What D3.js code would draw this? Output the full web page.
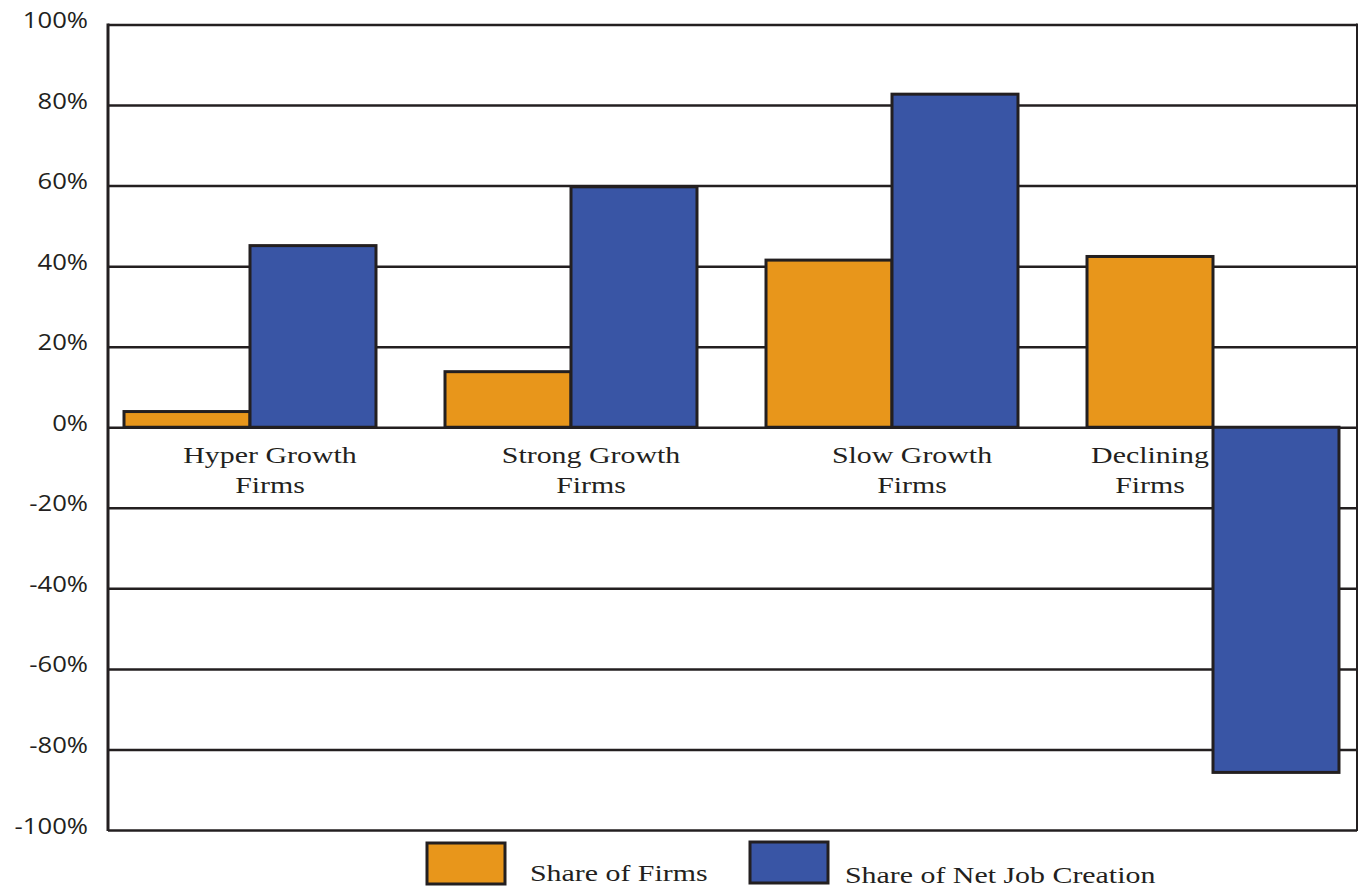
<!DOCTYPE html>
<html>
<head>
<meta charset="utf-8">
<script src="https://cdn.jsdelivr.net/npm/d3@7"></script>
<style>
  html, body { margin: 0; padding: 0; background: #ffffff; }
  svg { display: block; }
</style>
</head>
<body>
<svg id="chart" width="1359" height="888"></svg>
<script>
// Firm growth classes and their shares
const categories = ["Hyper Growth Firms", "Strong Growth Firms", "Slow Growth Firms", "Declining Firms"];
const categoryLines = [["Hyper Growth", "Firms"], ["Strong Growth", "Firms"], ["Slow Growth", "Firms"], ["Declining", "Firms"]];
const seriesNames = ["Share of Firms", "Share of Net Job Creation"];
const shareOfFirms = [3.9, 13.8, 41.5, 42.4];
const shareOfNetJobCreation = [45.1, 59.7, 82.7, -85.7];
const yTicks = [100, 80, 60, 40, 20, 0, -20, -40, -60, -80, -100];
const yTickLabels = ["100%", "80%", "60%", "40%", "20%", "0%", "-20%", "-40%", "-60%", "-80%", "-100%"];

const seriesValues = [shareOfFirms, shareOfNetJobCreation];
const colors = ["#E8961B", "#3955A5"];
const ink = "#231f20";

const svg = d3.select("#chart");
const plot = { left: 108, right: 1357, top: 24.5, bottom: 830 };

// Glyphs in this chart are set wide, so text is stretched horizontally
const SERIF = "'Liberation Serif', 'Times New Roman', serif";
const SANS = "'Open Sans', 'DejaVu Sans', sans-serif";
const serifStretch = 1.3, sansStretch = 1.14;

const y = d3.scaleLinear().domain([-100, 100]).range([plot.bottom, plot.top]);
const x0 = d3.scaleBand().domain(categories).range([89.5, 1373.5]).paddingInner(0.215).paddingOuter(0.1075);
const x1 = d3.scaleBand().domain(seriesNames).range([0, x0.bandwidth()]);

// Horizontal grid lines through the y axis
const yAxis = d3.axisLeft(y).tickValues(yTicks).tickSize(-(plot.right - plot.left)).tickFormat("");
const grid = svg.append("g").attr("transform", `translate(${plot.left},0)`).call(yAxis);
grid.select(".domain").remove();
grid.selectAll(".tick line").attr("stroke", ink).attr("stroke-width", 2.5);

// Tick labels
grid.selectAll(".tick").each(function (d) {
  d3.select(this).append("g")
    .attr("transform", `translate(-20,3) scale(${sansStretch},1)`)
    .append("text")
    .attr("text-anchor", "end")
    .attr("font-family", SANS)
    .attr("font-size", 22.5)
    .attr("fill", ink)
    .text(yTickLabels[yTicks.indexOf(d)]);
});

// Frame: left axis line and right edge
svg.append("line").attr("x1", plot.left).attr("x2", plot.left)
  .attr("y1", y(100) - 1).attr("y2", y(-100) + 1)
  .attr("stroke", ink).attr("stroke-width", 3);
svg.append("line").attr("x1", plot.right).attr("x2", plot.right)
  .attr("y1", y(100) - 1).attr("y2", y(-100) + 1)
  .attr("stroke", ink).attr("stroke-width", 2);

// Bars
const groups = svg.append("g").selectAll("g")
  .data(categories)
  .join("g")
  .attr("transform", d => `translate(${x0(d)},0)`);

groups.selectAll("rect")
  .data((c, ci) => seriesNames.map((s, si) => ({ series: s, si, value: seriesValues[si][ci] })))
  .join("rect")
  .attr("x", d => x1(d.series))
  .attr("width", x1.bandwidth())
  .attr("y", d => y(Math.max(0, d.value)))
  .attr("height", d => Math.abs(y(d.value) - y(0)))
  .attr("fill", d => colors[d.si])
  .attr("stroke", ink)
  .attr("stroke-width", 3);

// Category labels below the zero line; when the job bar dips below zero,
// the label moves over the firm-share bar so it stays clear
categories.forEach((c, ci) => {
  const negative = shareOfNetJobCreation[ci] < 0;
  const cx = negative
    ? x0(c) + x1(seriesNames[0]) + x1.bandwidth() / 2
    : x0(c) + x0.bandwidth() / 2 + 20;
  categoryLines[ci].forEach((line, li) => {
    svg.append("g")
      .attr("transform", `translate(${cx},${y(0) + 36 + li * 30}) scale(${serifStretch},1)`)
      .append("text")
      .attr("text-anchor", "middle")
      .attr("font-family", SERIF)
      .attr("font-size", 23)
      .attr("fill", ink)
      .text(line);
  });
});

// Legend
const legendX = [427, 750];
const legendTextDx = [103, 95];
const legendTextY = [881, 883];
seriesNames.forEach((s, si) => {
  svg.append("rect")
    .attr("x", legendX[si]).attr("y", 843 - si)
    .attr("width", 78).attr("height", 41)
    .attr("fill", colors[si]).attr("stroke", ink).attr("stroke-width", 3);
  svg.append("g")
    .attr("transform", `translate(${legendX[si] + legendTextDx[si]},${legendTextY[si]}) scale(${serifStretch},1)`)
    .append("text")
    .attr("font-family", SERIF)
    .attr("font-size", 23)
    .attr("fill", ink)
    .text(s);
});
</script>
</body>
</html>
